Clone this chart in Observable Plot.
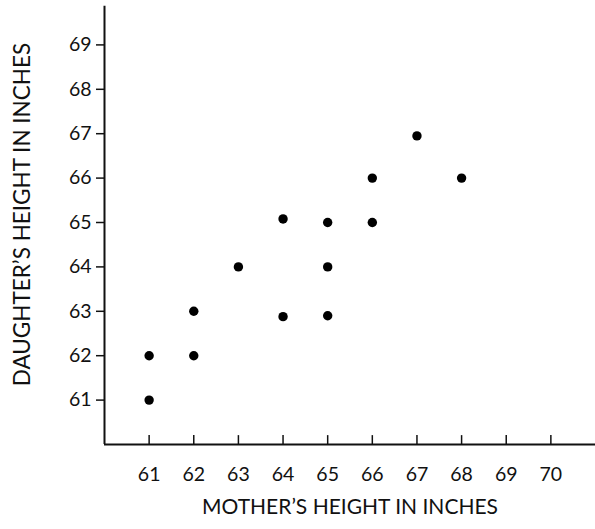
<!DOCTYPE html>
<html>
<head>
<meta charset="utf-8">
<script src="https://cdn.jsdelivr.net/npm/d3@7"></script>
<script src="https://cdn.jsdelivr.net/npm/@observablehq/plot@0.6"></script>
<style>
  body { margin: 0; background: #fff; }
</style>
</head>
<body>
<div id="chart"></div>
<script>
const mother   = [61, 61, 62, 62, 63, 64,    64,    65,    65, 65, 66, 66, 67,    68];
const daughter = [61, 62, 62, 63, 64, 62.88, 65.08, 62.9,  64, 65, 65, 66, 66.95, 66];
const xTicks = [61, 62, 63, 64, 65, 66, 67, 68, 69, 70];
const yTicks = [61, 62, 63, 64, 65, 66, 67, 68, 69];
const xLabel = "MOTHER’S HEIGHT IN INCHES";
const yLabel = "DAUGHTER’S HEIGHT IN INCHES";

const data = mother.map((m, i) => ({mother: m, daughter: daughter[i]}));

const chart = Plot.plot({
  width: 595,
  height: 529,
  marginLeft: 104,
  marginRight: 0,
  marginTop: 0,
  marginBottom: 85,
  style: {fontFamily: "Lato, 'Open Sans', sans-serif", fontSize: "19px", color: "#111", background: "#fff"},
  x: {domain: [60, 71]},
  y: {domain: [60, 70]},
  marks: [
    Plot.axisY({ticks: yTicks, tickSize: 8, tickPadding: 5, label: null, fontSize: 19.5, stroke: "#111", strokeWidth: 1.5}),
    Plot.axisX({ticks: xTicks, tickSize: 0, tickPadding: 23, label: null, fontSize: 19.5}),
    Plot.ruleX(xTicks, {x: d => d, y1: 60, y2: 60.2, stroke: "#111", strokeWidth: 1.5}),
    Plot.ruleY([60], {x1: 60, x2: 71, stroke: "#111", strokeWidth: 2}),
    Plot.ruleX([60], {y1: 60, y2: 69.87, stroke: "#111", strokeWidth: 2}),
    Plot.dot(data, {x: "mother", y: "daughter", r: 4.7, fill: "#000", stroke: "none"}),
    Plot.text([xLabel], {text: d => d, frameAnchor: "bottom", dy: 69, fontSize: 21, fill: "#111"}),
    Plot.text([yLabel], {text: d => d, frameAnchor: "left", textAnchor: "middle", dx: -82, dy: -8, rotate: -90, fontSize: 22.5, fill: "#111"})
  ]
});
document.getElementById("chart").appendChild(chart);
</script>
</body>
</html>
